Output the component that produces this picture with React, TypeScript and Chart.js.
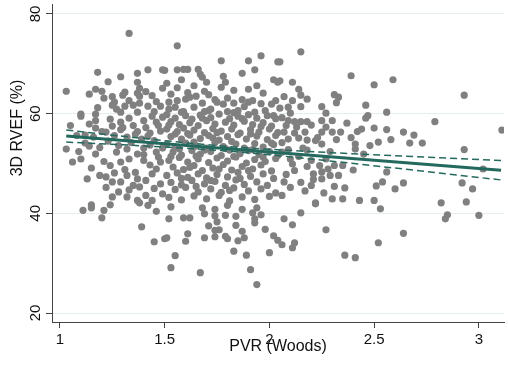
import { useEffect, useRef } from "react";
import { Chart, registerables } from "chart.js";

Chart.register(...registerables);

// ---- data (PVR in Woods units, 3D RVEF in %) ----
const xTicks = [1, 1.5, 2, 2.5, 3];
const yTicks = [20, 40, 60, 80];

const upperLeftPts: number[][] = [
  [1.33,76.1],[1.18,68.3],[1.29,67.4],[1.37,68.1],[1.42,68.8],[1.49,68.8],[1.23,66.4],[1.03,64.5],[1.17,64.9],[1.14,63.9],
  [1.20,64.5],[1.21,63.1],[1.25,63.4],[1.30,63.7],[1.31,64.3],[1.37,66.3],[1.38,65.1],[1.37,64.1],[1.38,63.5],[1.25,61.7],
  [1.27,60.9],[1.31,61.5],[1.33,62.6],[1.35,61.7],[1.38,62.1],[1.42,61.5],[1.44,63.6],[1.46,62.4],[1.49,65.1],[1.48,61.5],
  [1.10,59.9],[1.17,59.9],[1.29,60.3],[1.37,60.3],[1.45,60.4],[1.41,64.4],[1.26,62.3],[1.18,61.2],
];

const upperMidPts: number[][] = [
  [1.56,73.6],[1.77,70.6],[1.90,70.6],[1.96,71.6],[2.04,70.4],[1.50,68.7],[1.56,68.8],[1.59,68.9],[1.61,68.9],[1.66,68.9],
  [1.67,67.9],[1.68,67.3],[1.78,67.5],[1.87,68.1],[1.93,68.8],[1.51,66.1],[1.58,66.8],[1.70,66.3],[1.79,66.3],[1.77,65.3],
  [1.56,65.2],[1.64,65.6],[1.69,64.5],[1.83,64.7],[1.90,64.9],[1.94,65.6],[2.02,66.8],[2.04,66.3],[1.97,64.1],[1.52,62.3],
  [1.56,62.6],[1.60,62.9],[1.62,63.3],[1.65,63.5],[1.68,62.1],[1.74,62.8],[1.75,62.3],[1.78,61.9],[1.83,62.1],[1.87,62.8],
  [1.90,62.3],[1.92,62.6],[2.01,61.9],[2.03,62.6],[1.52,60.9],[1.55,61.3],[1.59,60.4],[1.64,61.3],[1.69,60.4],[1.72,60.9],
  [1.80,60.4],[1.85,60.6],[1.93,60.3],[1.98,60.6],[1.53,63.9],[1.61,64.2],[1.71,63.8],[1.80,63.1],[1.88,61.4],[1.96,62.0],
];

const upperRightPts: number[][] = [
  [2.15,72.4],[2.05,70.4],[2.05,66.6],[2.11,66.3],[2.14,64.9],[2.15,63.7],[2.11,62.6],[2.09,61.3],[2.15,61.4],[2.05,61.1],
  [2.10,60.1],[2.39,67.6],[2.50,65.8],[2.59,66.8],[2.31,63.8],[2.33,63.3],[2.32,62.2],[2.25,61.4],[2.27,60.1],[2.46,61.7],
  [2.56,60.3],[2.47,59.6],[2.93,63.7],[2.79,58.4],[2.64,56.3],[2.69,55.7],[2.67,54.1],[2.73,54.1],[2.93,52.8],[3.11,56.7],
  [2.07,63.4],[2.18,62.9],
];

const midLeftPts: number[][] = [
  [1.05,57.6],[1.10,59.5],[1.14,57.9],[1.17,57.1],[1.20,56.4],[1.24,58.9],[1.25,57.5],[1.29,58.3],[1.29,56.8],[1.33,59.1],
  [1.35,57.6],[1.37,56.4],[1.40,58.6],[1.41,57.2],[1.43,56.1],[1.46,58.3],[1.48,56.5],[1.49,59.3],[1.12,55.7],[1.16,55.3],
  [1.26,55.6],[1.32,55.3],[1.39,54.9],[1.45,54.6],[1.03,52.9],[1.09,52.4],[1.10,50.9],[1.14,53.5],[1.17,51.9],[1.21,50.4],
  [1.15,49.1],[1.24,49.6],[1.27,52.3],[1.32,52.9],[1.29,50.3],[1.33,50.9],[1.37,51.9],[1.40,53.1],[1.43,53.7],[1.46,52.3],
  [1.49,53.1],[1.40,50.6],[1.48,50.3],[1.22,47.3],[1.25,46.3],[1.29,46.3],[1.32,47.6],[1.37,46.9],[1.35,45.6],[1.38,45.3],
  [1.41,46.6],[1.44,47.9],[1.46,48.9],[1.48,45.9],[1.28,44.3],[1.25,43.3],[1.32,43.3],[1.37,42.6],[1.41,43.6],[1.44,42.6],
  [1.49,43.9],[1.15,41.7],[1.24,41.7],[1.38,42.1],
  [1.12,54.1],[1.19,53.2],[1.23,54.5],[1.28,53.6],[1.34,54.2],[1.42,55.5],[1.47,57.6],[1.36,55.9],[1.30,57.2],[1.22,56.3],
  [1.17,58.6],[1.44,59.5],[1.40,51.8],[1.31,48.8],[1.36,48.2],[1.43,49.7],[1.26,48.1],[1.19,47.6],[1.13,46.9],[1.45,45.0],
  [1.33,44.7],[1.22,45.2],[1.47,51.3],[1.08,55.6],[1.06,50.3],
];

const midCentrePts: number[][] = [
  [1.51,59.8],[1.55,59.1],[1.60,59.6],[1.63,58.9],[1.67,59.7],[1.72,59.2],[1.76,59.9],[1.81,59.0],[1.85,59.5],[1.90,59.8],[1.94,59.1],[1.99,59.6],[2.03,59.0],
  [1.53,58.4],[1.57,57.8],[1.62,58.2],[1.66,57.6],[1.70,58.6],[1.74,57.9],[1.79,58.3],[1.83,57.7],[1.88,58.5],[1.92,57.8],[1.97,58.2],[2.01,57.5],
  [1.51,56.9],[1.56,56.4],[1.59,57.1],[1.64,56.7],[1.69,56.2],[1.73,57.0],[1.77,56.5],[1.82,56.9],[1.86,56.1],[1.91,56.8],[1.95,56.3],[2.00,56.9],[2.04,56.2],
  [1.53,55.4],[1.58,54.9],[1.62,55.7],[1.67,55.0],[1.71,55.6],[1.76,54.7],[1.80,55.4],[1.85,55.8],[1.89,54.9],[1.94,55.5],[1.99,54.8],[2.03,55.6],
  [1.51,53.9],[1.55,53.2],[1.60,54.1],[1.65,53.5],[1.70,53.1],[1.74,54.2],[1.78,53.4],[1.84,53.9],[1.88,53.1],[1.93,54.0],[1.97,53.3],[2.02,53.8],
  [1.54,52.3],[1.58,51.7],[1.63,52.6],[1.67,51.9],[1.72,52.4],[1.77,51.6],[1.81,52.7],[1.86,52.0],[1.90,52.6],[1.95,51.8],[2.00,52.4],[2.04,51.6],
  [1.52,50.6],[1.57,51.2],[1.61,50.3],[1.66,50.9],[1.71,50.2],[1.75,51.1],[1.80,50.5],[1.84,51.3],[1.89,50.1],[1.93,50.8],[1.98,50.4],[2.03,51.0],
  [1.54,49.3],[1.59,48.8],[1.64,49.6],[1.68,48.6],[1.73,49.1],[1.78,49.8],[1.82,48.7],[1.87,49.4],[1.92,48.9],[1.96,49.7],[2.01,48.5],
  [1.51,47.6],[1.56,48.1],[1.61,47.2],[1.66,47.9],[1.70,47.1],[1.75,47.8],[1.80,47.3],[1.85,48.2],[1.91,47.4],[1.97,47.9],[2.02,47.0],
  [1.53,46.2],[1.58,45.7],[1.63,46.6],[1.69,45.9],[1.74,46.4],[1.79,45.6],[1.84,46.7],[1.88,45.8],[1.94,46.3],[1.99,45.6],
  [1.55,44.8],[1.60,45.2],[1.66,44.3],[1.72,44.9],[1.77,44.2],[1.83,45.1],[1.90,44.5],[1.96,44.9],[2.03,44.1],
  [1.52,43.2],[1.58,42.7],[1.64,43.5],[1.70,42.9],[1.76,43.6],[1.81,42.5],[1.87,43.3],[1.93,42.8],[2.00,43.4],
  [1.52,57.7],[1.61,56.0],[1.68,59.1],[1.75,56.2],[1.87,59.0],[1.96,57.4],[2.02,59.6],[1.58,60.3],[1.71,60.6],[1.83,60.2],
  [1.55,55.9],[1.64,54.3],[1.73,55.1],[1.82,54.4],[1.91,55.9],[2.01,54.1],[1.57,52.9],[1.69,52.7],[1.79,53.0],[1.92,52.8],
  [1.53,51.4],[1.65,51.5],[1.83,51.4],[1.97,51.3],[1.62,49.2],[1.76,48.9],[1.90,48.6],[1.58,47.0],[1.72,46.6],[1.86,47.0],
  [1.65,45.4],[1.81,44.6],
];

const midRightPts: number[][] = [
  [2.12,58.4],[2.15,58.4],[2.18,58.4],[2.25,58.6],[2.30,58.6],[2.46,59.1],[2.08,57.6],[2.07,56.3],[2.12,56.1],[2.09,54.9],
  [2.14,55.1],[2.17,56.3],[2.18,54.7],[2.22,54.6],[2.25,56.3],[2.25,53.9],[2.30,56.3],[2.34,56.3],[2.42,56.4],[2.44,56.9],
  [2.50,57.1],[2.56,56.8],[2.41,53.9],[2.41,52.9],[2.52,54.3],[2.58,54.8],[2.18,52.7],[2.29,52.4],[2.06,52.3],[2.10,50.9],
  [2.11,49.9],[2.12,48.6],[2.20,50.6],[2.24,49.6],[2.28,48.9],[2.31,49.6],[2.33,47.6],[2.21,47.9],[2.25,48.3],[2.29,47.6],
  [2.35,49.6],[2.56,48.3],[2.07,46.3],[2.21,46.8],[2.20,45.6],[2.25,46.9],[2.36,45.1],[2.51,45.5],[2.54,46.3],[2.06,43.6],
  [2.30,42.9],[2.35,42.9],[2.43,42.6],[2.50,42.6],[2.22,42.1],
  [2.06,59.2],[2.09,58.6],[2.13,57.3],[2.16,53.1],[2.20,57.7],[2.23,55.2],[2.27,57.3],[2.32,54.8],[2.37,58.1],[2.06,54.2],
  [2.09,52.8],[2.14,51.4],[2.18,49.4],[2.08,47.8],[2.15,46.2],[2.27,50.9],[2.31,45.4],[2.40,48.7],[2.45,51.9],[2.17,44.5],
  [2.26,44.1],[2.10,45.2],[2.39,55.2],[2.48,53.6],
];

const lowPts: number[][] = [
  [3.02,48.9],[2.64,46.1],[2.60,44.9],[2.92,46.1],[2.97,44.9],[2.82,42.1],[2.94,42.3],[2.85,39.7],[2.84,38.9],[3.00,39.6],
  [2.64,36.0],[2.22,41.9],[2.15,40.1],[2.07,38.9],[2.11,37.7],[2.27,36.7],[2.53,40.9],[2.06,33.7],[2.12,34.1],[2.11,33.1],
  [2.36,31.6],[2.41,31.1],[2.52,34.1],[1.53,41.3],[1.68,41.1],[1.74,40.8],[1.80,41.6],[1.87,40.8],[1.94,41.1],[1.92,40.1],
  [1.96,39.7],[1.52,38.9],[1.59,39.1],[1.62,39.1],[1.69,39.9],[1.74,39.5],[1.79,39.6],[1.84,39.4],[1.93,38.9],[1.93,38.1],
  [1.75,38.3],[1.71,37.5],[1.84,37.6],[1.74,36.6],[1.76,36.7],[1.87,36.4],[1.98,36.8],[1.61,35.9],[1.51,35.1],[1.60,34.4],
  [1.69,35.1],[1.74,35.3],[1.79,35.4],[1.80,34.9],[1.85,34.5],[1.88,35.1],[2.02,35.5],[2.04,34.6],[1.83,32.4],[1.89,31.6],
  [2.00,32.1],[1.55,31.5],[1.53,29.1],[1.67,28.1],[1.91,28.7],[1.94,25.7],[1.11,40.6],[1.15,41.1],[1.21,40.6],[1.20,39.1],
  [1.42,41.6],[1.46,40.4],[1.39,37.3],[1.45,34.3],[1.50,34.9],
];

// fitted line and 95% CI
const fitX = [1.03, 3.106];
const fitY = [55.5, 48.65];
const ciX = [1.03, 1.3, 1.6, 1.8, 2.0, 2.3, 2.6, 2.9, 3.106];
const ciUpper = [56.7, 55.46, 54.15, 53.41, 52.84, 52.16, 51.56, 50.99, 50.6];
const ciLower = [54.3, 53.76, 53.08, 52.51, 51.77, 50.46, 49.08, 47.67, 46.7];

const FONT = "'Liberation Sans', Arial, sans-serif";
const TEAL = "#24695d";

export default function App() {
  const ref = useRef<HTMLCanvasElement | null>(null);

  useEffect(() => {
    if (!ref.current) return;
    const allPts = [
      ...upperLeftPts, ...upperMidPts, ...upperRightPts,
      ...midLeftPts, ...midCentrePts, ...midRightPts, ...lowPts,
    ].map(([x, y]) => ({ x, y }));
    const toXY = (xs: number[], ys: number[]) => xs.map((x, i) => ({ x, y: ys[i] }));

    const yAxisPlugin = {
      id: "yAxisText",
      afterDraw(chart: any) {
        const { ctx, scales, chartArea } = chart;
        const y = scales.y;
        ctx.save();
        ctx.fillStyle = "#111";
        ctx.font = `15px ${FONT}`;
        ctx.textAlign = "center";
        ctx.textBaseline = "middle";
        yTicks.forEach((v) => {
          const py = y.getPixelForValue(v);
          ctx.save();
          ctx.translate(36, py);
          ctx.rotate(-Math.PI / 2);
          ctx.fillText(String(v), 0, 0);
          ctx.restore();
        });
        ctx.font = `16px ${FONT}`;
        ctx.save();
        ctx.translate(18, chartArea.top + (chartArea.bottom - chartArea.top) * 0.39);
        ctx.rotate(-Math.PI / 2);
        ctx.fillText("3D RVEF (%)", 0, 0);
        ctx.restore();
        ctx.restore();
      },
    };

    const chart = new Chart(ref.current, {
      type: "scatter",
      data: {
        datasets: [
          {
            data: toXY(fitX, fitY),
            showLine: true,
            borderColor: TEAL,
            borderWidth: 3,
            pointRadius: 0,
            order: 0,
          },
          {
            data: toXY(ciX, ciUpper),
            showLine: true,
            borderColor: TEAL,
            borderWidth: 1.5,
            borderDash: [7, 4],
            pointRadius: 0,
            order: 0,
          },
          {
            data: toXY(ciX, ciLower),
            showLine: true,
            borderColor: TEAL,
            borderWidth: 1.5,
            borderDash: [7, 4],
            pointRadius: 0,
            order: 0,
          },
          {
            data: allPts,
            backgroundColor: "#808080",
            borderWidth: 0,
            pointRadius: 3.6,
            order: 1,
          },
        ],
      },
      options: {
        responsive: false,
        animation: false,
        layout: { padding: { top: 3, right: 3, left: 0, bottom: 0 } },
        plugins: { legend: { display: false }, tooltip: { enabled: false } },
        scales: {
          x: {
            type: "linear",
            min: 0.962,
            max: 3.12,
            afterBuildTicks: (s: any) => { s.ticks = xTicks.map((v) => ({ value: v })); },
            afterFit: (s: any) => { s.height = 43; },
            ticks: {
              color: "#111",
              font: { family: FONT, size: 15 },
              padding: 3,
              maxRotation: 0,
              callback: (v: any) => String(v),
            },
            grid: { drawOnChartArea: false, drawTicks: true, tickLength: 6, tickColor: "#444" },
            border: { display: true, color: "#444", width: 1 },
            title: {
              display: true,
              text: "PVR (Woods)",
              color: "#111",
              font: { family: FONT, size: 16 },
              padding: { top: 0, bottom: 9 },
            },
          },
          y: {
            type: "linear",
            min: 18.2,
            max: 82,
            afterBuildTicks: (s: any) => { s.ticks = yTicks.map((v) => ({ value: v })); },
            afterFit: (s: any) => { s.width = 52; },
            ticks: { display: false },
            grid: { color: "#e4eef0", lineWidth: 1, drawTicks: true, tickLength: 6, tickColor: "#444" },
            border: { display: true, color: "#444", width: 1 },
          },
        },
      },
      plugins: [yAxisPlugin],
    });
    return () => chart.destroy();
  }, []);

  return (
    <div style={{ position: "fixed", left: 0, top: 0, width: 508, height: 365, background: "#fff" }}>
      <canvas ref={ref} width={508} height={365} />
    </div>
  );
}
